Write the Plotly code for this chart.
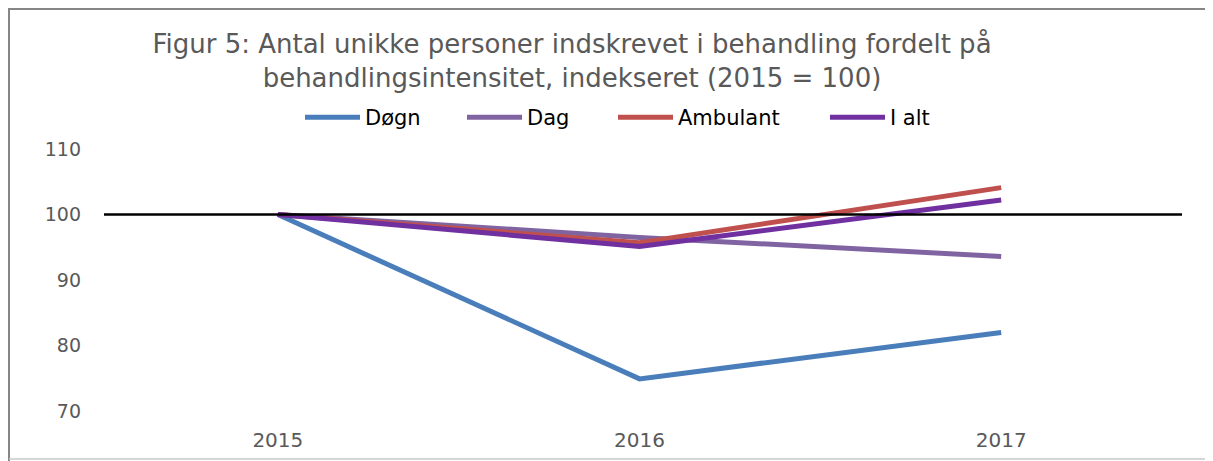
import plotly.graph_objects as go

years = ["2015", "2016", "2017"]
series_names = ["Døgn", "Dag", "Ambulant", "I alt"]
dogn = [100, 74.9, 82.0]
dag = [100, 96.5, 93.6]
ambulant = [100, 95.7, 104.1]
i_alt = [100, 95.1, 102.2]
y_ticks = [70, 80, 90, 100, 110]
reference_value = 100

colors = ["#4a7ebb", "#8064a2", "#c0504d", "#7030a0"]
values = [dogn, dag, ambulant, i_alt]
legend_ids = ["legend", "legend2", "legend3", "legend4"]
legend_x = [305, 467, 618, 830]  # page px where each legend symbol starts

OFF = 8  # page body margin
W, H = 1213 - OFF, 461 - OFF
L = 97 - OFF
T = 149 - OFF
R = W - (1182 - OFF)
B = H - (411 - OFF)
pw = W - L - R
ph = H - T - B
FONT = "DejaVu Sans"
GRAY = "#595959"


def px_x(x):
    return (x - L) / pw


def px_y(y):
    return (H - B - y) / ph


fig = go.Figure()
for name, vals, col, lid in zip(series_names, values, colors, legend_ids):
    fig.add_trace(go.Scatter(
        x=years, y=vals, name=name, mode="lines",
        line=dict(color=col, width=5), legend=lid, showlegend=True,
    ))

# reference line at 100
fig.add_shape(type="line", xref="paper", yref="y",
              x0=px_x(104 - OFF), x1=1, y0=reference_value, y1=reference_value,
              line=dict(color="black", width=2.5))

# chart border (top / left / bottom)
fig.add_shape(type="line", xref="paper", yref="paper",
              x0=px_x(-5), x1=px_x(W + 5), y0=px_y(1), y1=px_y(1),
              line=dict(color="#868686", width=2))
fig.add_shape(type="line", xref="paper", yref="paper",
              x0=px_x(1), x1=px_x(1), y0=px_y(0), y1=px_y(H + 5),
              line=dict(color="#868686", width=2))
fig.add_shape(type="line", xref="paper", yref="paper",
              x0=px_x(1), x1=px_x(W + 5), y0=px_y(459 - OFF), y1=px_y(459 - OFF),
              line=dict(color="#c8c8c8", width=1.5))

legends = {}
for lid, lx in zip(legend_ids, legend_x):
    legends[lid] = dict(
        xref="container", yref="container",
        x=(lx - OFF - 5) / W, y=1 - 89 / H, xanchor="left", yanchor="top",
        orientation="h", bgcolor="rgba(0,0,0,0)",
        font=dict(family=FONT, size=21, color="#000000"),
        itemwidth=55,
    )

fig.update_layout(
    width=W, height=H,
    margin=dict(l=L, r=R, t=T, b=B, autoexpand=False),
    paper_bgcolor="white", plot_bgcolor="white",
    showlegend=True,
    title=dict(
        text="Figur 5: Antal unikke personer indskrevet i behandling fordelt på<br>behandlingsintensitet, indekseret (2015 = 100)",
        x=(572 - OFF) / W, xanchor="center", xref="container",
        y=1 - 45 / H, yanchor="top", yref="container",
        font=dict(family=FONT, size=26, color=GRAY),
    ),
    font=dict(family=FONT, color=GRAY),
    xaxis=dict(
        type="category", range=[-0.5, 2.5], showgrid=False, showline=False,
        zeroline=False, ticks="", tickfont=dict(size=20, color=GRAY),
        ticklabelstandoff=15,
    ),
    yaxis=dict(
        range=[70, 110], tickvals=y_ticks, showgrid=False, showline=False,
        zeroline=False, ticks="", tickfont=dict(size=19, color=GRAY),
        ticklabelstandoff=15,
    ),
    **legends,
)

fig.write_html("out.html")
